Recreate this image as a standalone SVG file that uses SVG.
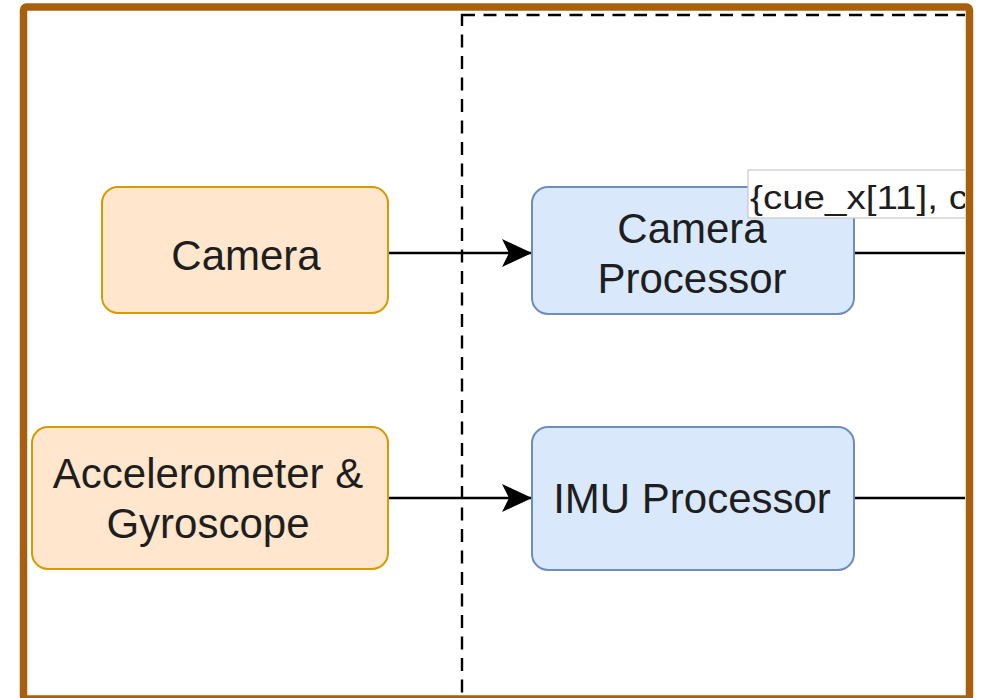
<svg xmlns="http://www.w3.org/2000/svg" width="989" height="698" viewBox="0 0 989 698">
  <style>
    .lbl { font-family: "Liberation Sans", Arial, sans-serif; font-size: 42px; fill: #1e1e1e; text-anchor: middle; }
    .sensor { fill: #FFE6CC; stroke: #D79B00; stroke-width: 2; }
    .proc { fill: #DAE8FC; stroke: #6C8EBF; stroke-width: 2; }
    .edge { fill: none; stroke: #000; stroke-width: 2.6; }
    .edgelabel { font-family: "Liberation Sans", Arial, sans-serif; font-size: 33px; fill: #1e1e1e; }
  </style>
  <defs>
    <marker id="arrow" viewBox="0 0 30 28" refX="30" refY="14" markerWidth="30" markerHeight="28" markerUnits="userSpaceOnUse" orient="auto">
      <path d="M30,14 L0,0 L7,14 L0,28 Z" fill="#000"/>
    </marker>
    <clipPath id="inner">
      <rect x="27" y="11" width="938" height="687"/>
    </clipPath>
  </defs>

  <rect x="0" y="0" width="989" height="698" fill="#fff"/>

  <g clip-path="url(#inner)">
    <!-- processing boundary -->
    <g id="boundary">
      <rect x="462" y="15" width="600" height="760" fill="none" stroke="#000" stroke-width="2.4" stroke-dasharray="13 8.5"/>
    </g>

    <!-- connectors -->
    <g id="connectors">
      <line class="edge" x1="388" y1="253" x2="532" y2="253" marker-end="url(#arrow)"/>
      <line class="edge" x1="388" y1="498" x2="532" y2="498" marker-end="url(#arrow)"/>
      <line class="edge" x1="854" y1="253" x2="990" y2="253"/>
      <line class="edge" x1="854" y1="498" x2="990" y2="498"/>
    </g>

    <g id="camera">
      <rect class="sensor" x="102" y="187" width="286" height="126" rx="16"/>
      <text class="lbl" x="246" y="270">Camera</text>
    </g>

    <g id="imu-sensors">
      <rect class="sensor" x="32" y="427" width="356" height="142" rx="16"/>
      <text class="lbl" x="208" y="488">Accelerometer &amp;</text>
      <text class="lbl" x="208" y="538">Gyroscope</text>
    </g>

    <g id="camera-processor">
      <rect class="proc" x="532" y="187" width="322" height="127" rx="16"/>
      <text class="lbl" x="692" y="243">Camera</text>
      <text class="lbl" x="692" y="293">Processor</text>
    </g>

    <g id="imu-processor">
      <rect class="proc" x="532" y="427" width="322" height="143" rx="16"/>
      <text class="lbl" x="692" y="513">IMU Processor</text>
    </g>

    <!-- label on the camera output edge -->
    <g id="cue-label">
      <rect x="748" y="170" width="260" height="48" fill="#fff" stroke="#c8c8c8" stroke-width="1.2"/>
      <text class="edgelabel" x="750" y="209" textLength="218" lengthAdjust="spacingAndGlyphs">{cue_x[11], c</text>
    </g>
  </g>

  <!-- outer frame -->
  <rect x="23.5" y="7" width="946" height="692" rx="3" fill="none" stroke="#A8600F" stroke-width="7.5"/>
</svg>
